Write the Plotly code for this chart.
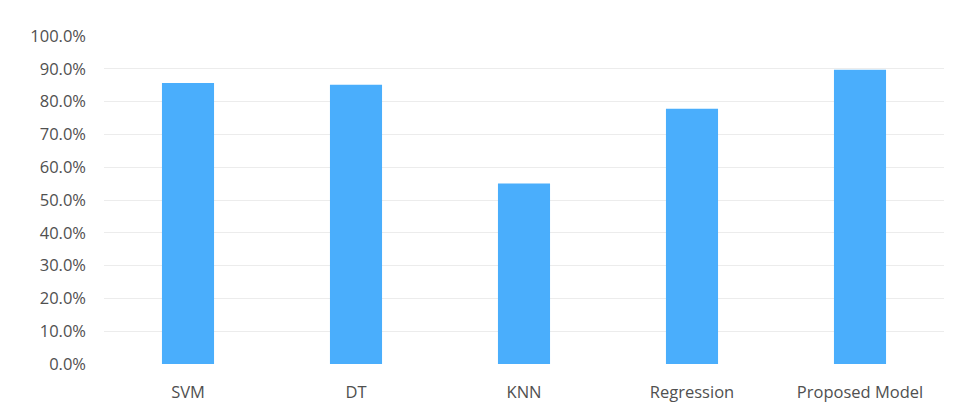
import plotly.graph_objects as go

categories = ["SVM", "DT", "KNN", "Regression", "Proposed Model"]
accuracy = [0.857, 0.851, 0.550, 0.778, 0.897]
y_ticks = [0.0, 0.1, 0.2, 0.3, 0.4, 0.5, 0.6, 0.7, 0.8, 0.9, 1.0]

fig = go.Figure(
    go.Bar(
        x=categories,
        y=accuracy,
        marker=dict(color="#4aaefc", line=dict(width=0)),
        hoverinfo="x+y",
    )
)

fig.update_layout(
    width=958,
    height=407,
    margin=dict(l=104, r=14, t=36, b=43),
    paper_bgcolor="white",
    plot_bgcolor="white",
    bargap=0.69,
    showlegend=False,
    font=dict(family="Open Sans, sans-serif", size=16.5, color="#505050"),
)

fig.update_xaxes(
    automargin=False,
    showgrid=False,
    showline=False,
    zeroline=False,
    ticks="",
    ticklabelstandoff=16,
    tickfont=dict(size=16.5, color="#505050"),
)

fig.update_yaxes(
    automargin=False,
    range=[0, 1.0],
    tickvals=y_ticks,
    tickformat=".1%",
    showgrid=True,
    gridcolor="#ececec",
    gridwidth=1,
    zeroline=False,
    showline=False,
    ticks="",
    ticklabelstandoff=17,
    tickfont=dict(size=16.5, color="#505050"),
)

fig.write_html("out.html")
